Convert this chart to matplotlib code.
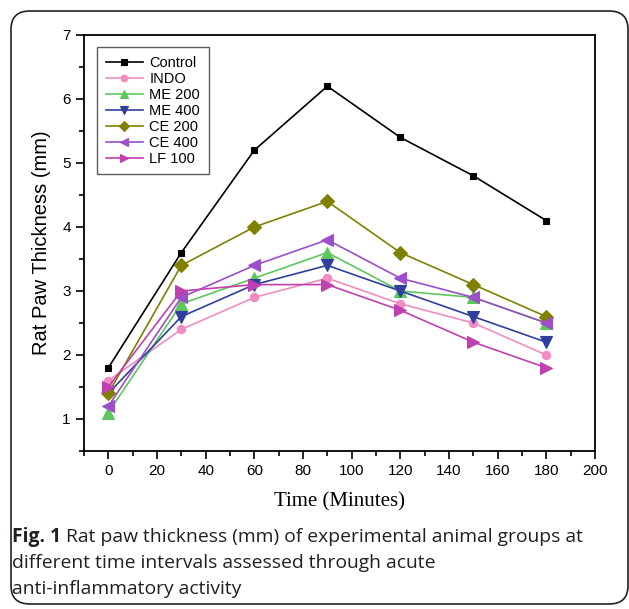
import numpy as np
import matplotlib
matplotlib.use("Agg")
import matplotlib.pyplot as plt
from matplotlib.patches import FancyBboxPatch
from matplotlib.ticker import MultipleLocator

time_min = [0, 30, 60, 90, 120, 150, 180]
groups = ["Control", "INDO", "ME 200", "ME 400", "CE 200", "CE 400", "LF 100"]
control = [1.8, 3.6, 5.2, 6.2, 5.4, 4.8, 4.1]
indo = [1.6, 2.4, 2.9, 3.2, 2.8, 2.5, 2.0]
me200 = [1.1, 2.8, 3.2, 3.6, 3.0, 2.9, 2.5]
me400 = [1.4, 2.6, 3.1, 3.4, 3.0, 2.6, 2.2]
ce200 = [1.4, 3.4, 4.0, 4.4, 3.6, 3.1, 2.6]
ce400 = [1.2, 2.9, 3.4, 3.8, 3.2, 2.9, 2.5]
lf100 = [1.5, 3.0, 3.1, 3.1, 2.7, 2.2, 1.8]

series = [control, indo, me200, me400, ce200, ce400, lf100]
colors = ["#000000", "#F08CC0", "#5CC85C", "#2E3F9E", "#808000", "#9B4FC8", "#C040B0"]
markers = ["s", "o", "^", "v", "D", "<", ">"]
msizes = [5, 6, 8, 8, 7, 8, 8]

plt.rcParams['font.family'] = ['Liberation Sans', 'DejaVu Sans']

fig = plt.figure(figsize=(6.29, 6.09), dpi=100)
W, H = 629, 609

# rounded outer frame
frame = FancyBboxPatch((11 / W, 5 / H), 617 / W, 593 / H,
                       boxstyle="round,pad=0,rounding_size=0.03",
                       transform=fig.transFigure, facecolor="none",
                       edgecolor="#222222", linewidth=1.2)
fig.patches.append(frame)

ax = fig.add_axes([84 / W, 1 - 451 / H, (595 - 84) / W, (451 - 35) / H])
for vals, name, c, m, ms in zip(series, groups, colors, markers, msizes):
    ax.plot(time_min, vals, color=c, marker=m, markersize=ms, linewidth=1.2,
            label=name, markeredgewidth=0.8, markeredgecolor=c)

ax.set_xlim(-10, 200)
ax.set_ylim(0.5, 7)
ax.xaxis.set_major_locator(MultipleLocator(20))
ax.xaxis.set_minor_locator(MultipleLocator(10))
ax.yaxis.set_major_locator(MultipleLocator(1))
ax.yaxis.set_minor_locator(MultipleLocator(0.5))
ax.tick_params(axis='both', which='major', direction='out', length=6, width=1.2,
               labelsize=11, top=False, right=False)
ax.tick_params(axis='both', which='minor', direction='out', length=3.5, width=1.2,
               top=False, right=False)
for s in ax.spines.values():
    s.set_linewidth(1.3)

ax.set_ylabel("Rat Paw Thickness (mm)", fontsize=14.5, labelpad=8)
ax.set_xlabel("Time (Minutes)", fontsize=15, family=['Liberation Serif', 'DejaVu Serif'],
              labelpad=10)

leg = ax.legend(loc='upper left', bbox_to_anchor=(0.025, 0.97), fontsize=10.5,
                frameon=True, fancybox=False, edgecolor='#333333', borderaxespad=0,
                handlelength=2.6, borderpad=0.6, labelspacing=0.13, handletextpad=0.4,
                markerscale=0.8)
leg.get_frame().set_linewidth(1.0)

cap_font = ['Open Sans', 'DejaVu Sans']
cap_size = 13.9
cap_color = '#231f20'
bold = fig.text(12 / W, 1 - 537 / H, "Fig. 1", fontsize=cap_size, va='center', ha='left',
                family=cap_font, weight='bold', color=cap_color)
fig.canvas.draw()
bb = bold.get_window_extent(renderer=fig.canvas.get_renderer())
fig.text((bb.x1 + 5) / W, 1 - 537 / H,
         "Rat paw thickness (mm) of experimental animal groups at",
         fontsize=cap_size, va='center', ha='left', family=cap_font, color=cap_color)
fig.text(12 / W, 1 - 563 / H, "different time intervals assessed through acute",
         fontsize=cap_size, va='center', ha='left', family=cap_font, color=cap_color)
fig.text(12 / W, 1 - 589 / H, "anti-inflammatory activity",
         fontsize=cap_size, va='center', ha='left', family=cap_font, color=cap_color)

fig.savefig("out.png", dpi=100)
